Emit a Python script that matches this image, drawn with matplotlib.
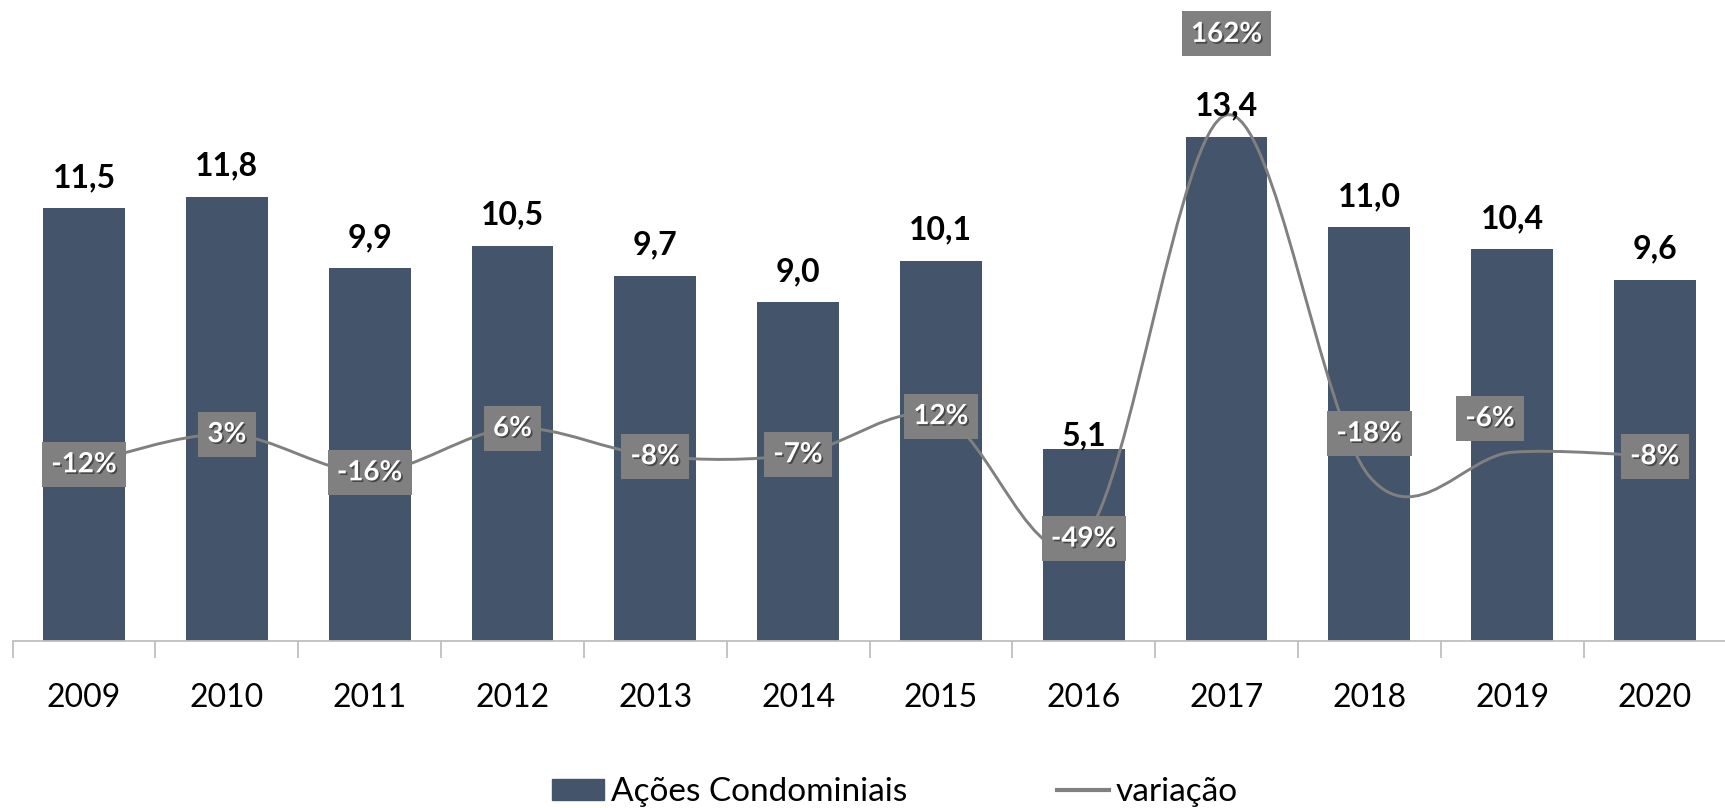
import numpy as np
import matplotlib.pyplot as plt
import matplotlib.patheffects as pe
from matplotlib.path import Path
from matplotlib.patches import PathPatch, Patch
from matplotlib.lines import Line2D

# dados
anos = ['2009', '2010', '2011', '2012', '2013', '2014',
        '2015', '2016', '2017', '2018', '2019', '2020']
acoes = [11.5, 11.8, 9.9, 10.5, 9.7, 9.0, 10.1, 5.1, 13.4, 11.0, 10.4, 9.6]
variacao = [-0.12, 0.03, -0.16, 0.06, -0.08, -0.07, 0.12, -0.49, 1.62, -0.18, -0.06, -0.08]

plt.rcParams['font.family'] = ['Lato', 'DejaVu Sans']

cor_barra = '#44546A'
cor_linha = '#808080'
cor_eixo = '#BFBFBF'

fig = plt.figure(figsize=(17.25, 8.08), dpi=100)
ax = fig.add_axes([0.00736, 0.2067, 0.9934, 0.7455])
x = np.arange(len(anos))

ax.bar(x, acoes, width=0.572, color=cor_barra, zorder=2)
ax.set_xlim(-0.5, len(anos) - 0.5)
ax.set_ylim(0, 16)
ax.set_yticks([])
for lado in ['top', 'right', 'left']:
    ax.spines[lado].set_visible(False)
ax.spines['bottom'].set_color(cor_eixo)
ax.spines['bottom'].set_linewidth(1.3)

# marcas entre categorias, rótulos no centro
ax.set_xticks(np.arange(-0.5, len(anos), 1))
ax.set_xticklabels([])
ax.tick_params(axis='x', which='major', length=12, width=1.3, color=cor_eixo)
ax.set_xticks(x, minor=True)
ax.set_xticklabels(anos, minor=True, fontsize=23)
ax.tick_params(axis='x', which='minor', length=0, pad=30)

# eixo secundário para a variação
ax2 = ax.twinx()
ax2.set_ylim(-1, 2)
ax2.set_yticks([])
for lado in ax2.spines:
    ax2.spines[lado].set_visible(False)

# linha suavizada (bezier tipo catmull-rom)
pts = np.column_stack([x, variacao]).astype(float)
ext = np.vstack([pts[0], pts, pts[-1]])
verts = [pts[0]]
codes = [Path.MOVETO]
for i in range(len(pts) - 1):
    c1 = pts[i] + (ext[i + 2] - ext[i]) / 6
    c2 = pts[i + 1] - (ext[i + 3] - ext[i + 1]) / 6
    verts += [c1, c2, pts[i + 1]]
    codes += [Path.CURVE4] * 3
ax2.add_patch(PathPatch(Path(verts, codes), facecolor='none', edgecolor=cor_linha,
                        lw=2.1, capstyle='round', zorder=3))

# rótulos das barras
for i, v in enumerate(acoes):
    dy = 4 if i == 7 else 21
    ax2.annotate(f'{v:.1f}'.replace('.', ','), (i, v), xycoords=ax.transData,
                 xytext=(0, dy), textcoords='offset pixels',
                 ha='center', va='baseline', fontsize=23, fontweight='bold',
                 color='black', zorder=5)

# rótulos da variação
deslocamentos = {8: (0, 81), 9: (0, 43), 10: (-22, 34)}
sombra = [pe.SimplePatchShadow(offset=(1.2, -1.2), shadow_rgbFace='black', alpha=0.45),
          pe.Normal()]
for i, v in enumerate(variacao):
    dx, dy = deslocamentos.get(i, (0, 0))
    ax2.annotate(f'{v:.0%}', (i, v), xytext=(dx, dy), textcoords='offset pixels',
                 ha='center', va='center', fontsize=20, fontweight='bold',
                 color='white', zorder=6, path_effects=sombra,
                 bbox=dict(boxstyle='square,pad=0.34', fc=cor_linha, ec='none'),
                 annotation_clip=False)

handles = [Patch(color=cor_barra, label='Ações Condominiais'),
           Line2D([], [], color=cor_linha, lw=3, label='variação')]
fig.legend(handles=handles, loc='center', bbox_to_anchor=(895 / 1725, 1 - 792 / 808),
           ncol=2, frameon=False, fontsize=24, handlelength=1.55, handleheight=0.6,
           handletextpad=0.2, columnspacing=4.5)

fig.savefig('out.png', dpi=100)
